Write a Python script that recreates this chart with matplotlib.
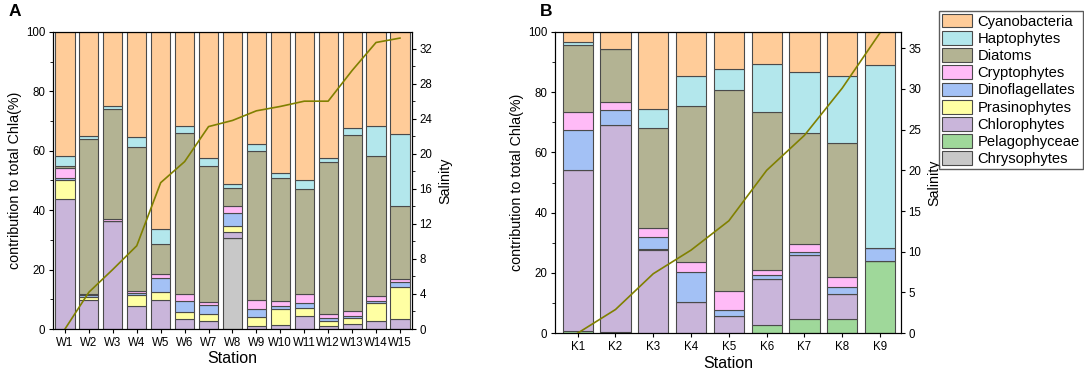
import numpy as np
import matplotlib.pyplot as plt
from matplotlib.patches import Patch
from matplotlib.ticker import MultipleLocator

plt.rcParams['font.family'] = ['Liberation Sans', 'DejaVu Sans']

# stack order bottom -> top
groups = ["Chrysophytes", "Pelagophyceae", "Chlorophytes", "Prasinophytes",
          "Dinoflagellates", "Cryptophytes", "Diatoms", "Haptophytes", "Cyanobacteria"]
colors = {"Cyanobacteria": "#FFCC99", "Haptophytes": "#B3E7EC", "Diatoms": "#B3B393",
          "Cryptophytes": "#FFBBF7", "Dinoflagellates": "#A3C1F5", "Prasinophytes": "#FFFFA3",
          "Chlorophytes": "#C9B5DA", "Pelagophyceae": "#9FD89A", "Chrysophytes": "#C8C8C8"}

# panel A (cumulative tops, %)
stationsA = ["W1", "W2", "W3", "W4", "W5", "W6", "W7", "W8", "W9", "W10", "W11", "W12", "W13", "W14", "W15"]
topA = {
    "Chrysophytes":    [0, 0, 0, 0, 0, 0, 0, 30.7, 0, 0, 0, 0, 0, 0, 0],
    "Pelagophyceae":   [0, 0, 0, 0, 0, 0, 0, 30.7, 0, 0, 0, 0, 0, 0, 0],
    "Chlorophytes":    [43.6, 9.7, 36.3, 7.7, 9.8, 3.2, 2.6, 32.5, 1.0, 1.3, 4.4, 1.0, 1.7, 2.7, 3.2],
    "Prasinophytes":   [50.0, 10.8, 36.3, 11.6, 12.3, 5.8, 4.9, 34.6, 3.9, 6.7, 7.2, 2.8, 3.6, 8.6, 14.3],
    "Dinoflagellates": [50.8, 11.3, 36.5, 12.1, 17.2, 9.4, 8.2, 38.9, 6.6, 7.7, 8.8, 3.6, 4.3, 9.4, 15.8],
    "Cryptophytes":    [54.3, 11.9, 37.0, 12.8, 18.6, 11.9, 9.1, 41.4, 9.9, 9.4, 11.9, 4.9, 6.2, 11.0, 17.0],
    "Diatoms":         [54.8, 63.8, 73.9, 61.3, 28.7, 66.0, 54.8, 47.6, 60.0, 50.7, 47.3, 56.1, 65.4, 58.2, 41.5],
    "Haptophytes":     [58.4, 64.9, 75.0, 64.5, 33.7, 68.3, 57.4, 48.9, 62.4, 52.4, 50.1, 57.5, 67.8, 68.5, 65.5],
    "Cyanobacteria":   [100] * 15,
}
salinityA = [0, 4.2, 6.8, 9.5, 16.7, 19.1, 23.1, 23.8, 24.9, 25.4, 26.0, 26.0, 29.5, 32.7, 33.2]

# panel B
stationsB = ["K1", "K2", "K3", "K4", "K5", "K6", "K7", "K8", "K9"]
topB = {
    "Chrysophytes":    [0, 0, 0, 0, 0, 0, 0, 0, 0],
    "Pelagophyceae":   [0.8, 0.3, 0, 0, 0, 2.8, 4.7, 4.7, 23.8],
    "Chlorophytes":    [54.3, 69.1, 27.7, 10.3, 5.8, 17.9, 25.8, 13.1, 23.8],
    "Prasinophytes":   [54.3, 69.1, 28.1, 10.3, 5.8, 17.9, 25.8, 13.1, 23.8],
    "Dinoflagellates": [67.6, 74.0, 31.8, 20.2, 7.8, 19.3, 26.8, 15.3, 28.2],
    "Cryptophytes":    [73.3, 76.7, 34.8, 23.6, 14.1, 20.9, 29.6, 18.6, 28.2],
    "Diatoms":         [95.7, 94.4, 68.1, 75.5, 80.8, 73.4, 66.6, 63.1, 28.2],
    "Haptophytes":     [96.6, 94.4, 74.5, 85.4, 87.7, 89.4, 86.8, 85.3, 88.9],
    "Cyanobacteria":   [100] * 9,
}
salinityB = [0, 2.9, 7.3, 10.2, 13.8, 20.0, 24.3, 30.1, 36.9]


def draw_panel(ax, stations, tops, salinity, sal_max, sal_major, sal_minor, xlim):
    x = np.arange(len(stations))
    prev = np.zeros(len(stations))
    for g in groups:
        top = np.array(tops[g], dtype=float)
        h = top - prev
        ax.bar(x, h, bottom=prev, width=0.8, color=colors[g],
               edgecolor="#4a4a4a", linewidth=0.8)
        prev = np.maximum(prev, top)
    ax.set_ylim(0, 100)
    ax.set_xlim(*xlim)
    ax.set_xticks(x)
    ax.set_xticklabels(stations)
    ax.yaxis.set_major_locator(MultipleLocator(20))
    ax.yaxis.set_minor_locator(MultipleLocator(10))
    ax.set_xlabel("Station", fontsize=11.5, labelpad=2)
    ax.set_ylabel("contribution to total Chla(%)", fontsize=10.3, labelpad=3)
    ax.tick_params(labelsize=8.3, length=3, pad=2.5)
    ax.tick_params(which="minor", length=2)

    ax2 = ax.twinx()
    ax2.plot(x, salinity, color="#808000", lw=1.2)
    ax2.set_ylim(0, sal_max)
    ax2.yaxis.set_major_locator(MultipleLocator(sal_major))
    if sal_minor:
        ax2.yaxis.set_minor_locator(MultipleLocator(sal_minor))
    ax2.set_ylabel("Salinity", fontsize=10.3)
    ax2.tick_params(labelsize=8.3, length=3, pad=2.5)
    ax2.tick_params(which="minor", length=2)
    return ax2


fig = plt.figure(figsize=(10.84, 3.76), dpi=100)
axA = fig.add_axes([0.0489, 0.125, 0.3311, 0.790])
axB = fig.add_axes([0.512, 0.114, 0.319, 0.801])

draw_panel(axA, stationsA, topA, salinityA, 33.9, 4, 2, (-0.5, 14.5))
draw_panel(axB, stationsB, topB, salinityB, 37, 5, None, (-0.6, 8.55))

fig.text(0.008, 0.99, "A", fontsize=12.5, fontweight="bold", va="top")
fig.text(0.498, 0.99, "B", fontsize=12.5, fontweight="bold", va="top")

handles = [Patch(facecolor=colors[g], edgecolor="#4a4a4a", linewidth=0.8, label=g)
           for g in groups[::-1]]
fig.legend(handles=handles, loc="upper right", bbox_to_anchor=(1.0, 0.975),
           fontsize=10.6, frameon=True, fancybox=False, edgecolor="#333333",
           handlelength=2.05, handleheight=1.05, labelspacing=0.16,
           handletextpad=0.35, borderpad=0.2, borderaxespad=0.1)

fig.savefig("out.png", dpi=100)
